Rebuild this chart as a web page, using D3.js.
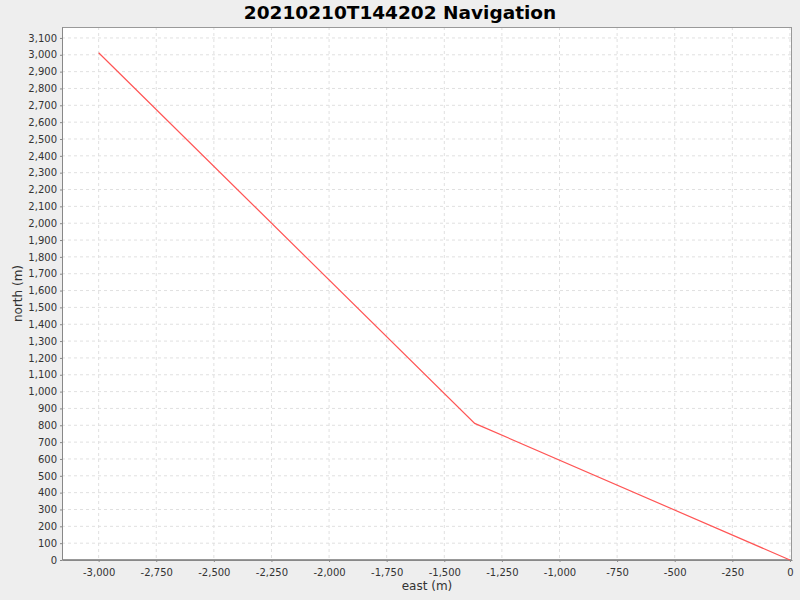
<!DOCTYPE html>
<html>
<head>
<meta charset="utf-8">
<script src="https://cdn.jsdelivr.net/npm/d3@7"></script>
<style>
  body { margin: 0; background: #eeeeee; }
  svg { display: block; }
  text { font-family: "DejaVu Sans", sans-serif; }
</style>
</head>
<body>
<div id="chart"></div>
<script>
// track points, east/north in metres
var eastValues = [-3000, -1368, 0];
var northValues = [3012, 811, 0];

var xTicks = [-3000, -2750, -2500, -2250, -2000, -1750, -1500, -1250, -1000, -750, -500, -250, 0];
var yTicks = d3.range(0, 3101, 100);

var width = 800, height = 600;
var plot = { left: 62, top: 27, right: 792, bottom: 560 };

var svg = d3.select("#chart").append("svg")
            .attr("width", width)
            .attr("height", height);

svg.append("rect")
   .attr("width", width).attr("height", height)
   .style("fill", "#eeeeee");

var x = d3.scaleLinear().domain([-3159, 9]).range([plot.left, plot.right]);
var y = d3.scaleLinear().domain([0, 3165]).range([plot.bottom, plot.top]);

svg.append("rect")
   .attr("x", plot.left).attr("y", plot.top)
   .attr("width", plot.right - plot.left)
   .attr("height", plot.bottom - plot.top)
   .style("fill", "white");

// grid lines
svg.append("g").selectAll("line")
   .data(xTicks).enter().append("line")
   .attr("x1", function (d) { return x(d); })
   .attr("x2", function (d) { return x(d); })
   .attr("y1", plot.top).attr("y2", plot.bottom)
   .style("stroke", "#e0e0e0").style("stroke-width", 1)
   .style("stroke-dasharray", "3,3");

svg.append("g").selectAll("line")
   .data(yTicks).enter().append("line")
   .attr("x1", plot.left).attr("x2", plot.right)
   .attr("y1", function (d) { return y(d); })
   .attr("y2", function (d) { return y(d); })
   .style("stroke", "#e0e0e0").style("stroke-width", 1)
   .style("stroke-dasharray", "3,3");

// plot outline
svg.append("rect")
   .attr("x", plot.left + 0.5).attr("y", plot.top + 0.5)
   .attr("width", plot.right - plot.left - 1)
   .attr("height", plot.bottom - plot.top - 1)
   .style("fill", "none").style("stroke", "#999999");

var comma = d3.format(",");
var fmt = function (d) { return comma(d).replace("\u2212", "-"); };

var xAxis = svg.append("g")
   .attr("transform", "translate(0," + plot.bottom + ")")
   .call(d3.axisBottom(x).tickValues(xTicks).tickFormat(fmt).tickSizeInner(2).tickSizeOuter(0).tickPadding(7));

var yAxis = svg.append("g")
   .attr("transform", "translate(" + plot.left + ",0)")
   .call(d3.axisLeft(y).tickValues(yTicks).tickFormat(fmt).tickSizeInner(2).tickSizeOuter(0).tickPadding(3));

[xAxis, yAxis].forEach(function (a) {
  a.select(".domain").style("stroke", "#888888");
  a.selectAll(".tick line").style("stroke", "#888888");
  a.selectAll("text").style("font-family", "DejaVu Sans, sans-serif")
   .style("font-size", "10px").style("fill", "#333333");
});

// track line
var pts = eastValues.map(function (e, i) { return [e, northValues[i]]; });
svg.append("path")
   .datum(pts)
   .attr("d", d3.line().x(function (d) { return x(d[0]); }).y(function (d) { return y(d[1]); }))
   .style("fill", "none")
   .style("stroke", "#ff5555")
   .style("stroke-width", 1.2);

svg.append("text")
   .attr("x", 400).attr("y", 19)
   .attr("text-anchor", "middle")
   .style("font-size", "18.5px").style("font-weight", "bold")
   .text("20210210T144202 Navigation");

svg.append("text")
   .attr("x", (plot.left + plot.right) / 2).attr("y", 590)
   .attr("text-anchor", "middle")
   .style("font-size", "12px").style("fill", "#333333")
   .text("east (m)");

svg.append("text")
   .attr("transform", "translate(22," + ((plot.top + plot.bottom) / 2) + ") rotate(-90)")
   .attr("text-anchor", "middle")
   .style("font-size", "12px").style("fill", "#333333")
   .text("north (m)");
</script>
</body>
</html>
